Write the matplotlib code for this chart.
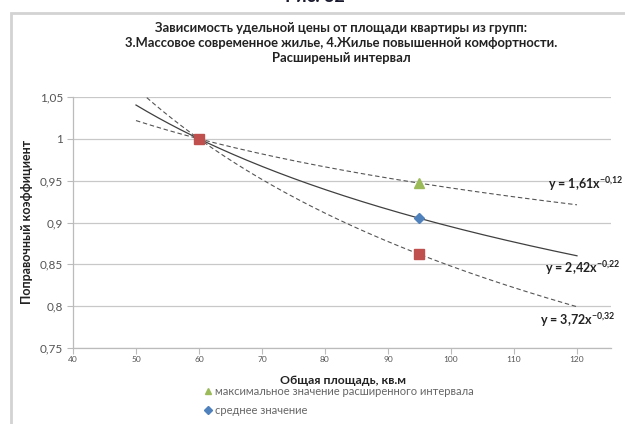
import numpy as np
import matplotlib
matplotlib.use("Agg")
import matplotlib.pyplot as plt
from matplotlib.lines import Line2D
from matplotlib.patches import Rectangle

plt.rcParams['font.family'] = ['Lato', 'DejaVu Sans']
plt.rcParams['mathtext.default'] = 'regular'

# ---- data ----
area_points = [60, 95]
max_values = [1.0, 0.947]      # максимальное значение расширенного интервала
mean_values = [1.0, 0.905]     # среднее значение
min_values = [1.0, 0.862]      # минимальное значение
equations = [("y = 1,61x", "-0,12"), ("y = 2,42x", "-0,22"), ("y = 3,72x", "-0,32")]
x_ticks = [40, 50, 60, 70, 80, 90, 100, 110, 120]
y_ticks = [0.75, 0.8, 0.85, 0.9, 0.95, 1.0, 1.05]
y_tick_labels = ["0,75", "0,8", "0,85", "0,9", "0,95", "1", "1,05"]
legend_labels = ["максимальное значение расширенного интервала", "среднее значение"]

W, H = 625, 424
fig = plt.figure(figsize=(W / 100, H / 100), dpi=100)
fig.patch.set_facecolor('white')

# outer frame of the chart
fig.patches.append(Rectangle((11 / W, -0.1), 1.2, (H - 13) / H + 0.1,
                             transform=fig.transFigure, fill=False,
                             edgecolor='#d3d3d3', linewidth=2))
# cut-off caption above the chart
fig.text(315 / W, 1 - (-3) / H, "Рис. 32", ha='center', va='center',
         fontsize=13, fontweight='bold', color='#1a1a2e')

ax = fig.add_axes([73 / W, 1 - 348 / H, (611 - 73) / W, (348 - 97) / H])
ax.set_xlim(40, 125.4)
ax.set_ylim(0.75, 1.05)

# trendlines (power fit on each series)
xs = np.linspace(50, 120, 200)
styles = [dict(ls=(0, (4, 2.5)), lw=0.8, color='#555555'),
          dict(ls='-', lw=0.9, color='#404040'),
          dict(ls=(0, (4, 2.5)), lw=0.8, color='#555555')]
for vals, st in zip([max_values, mean_values, min_values], styles):
    b, lna = np.polyfit(np.log(area_points), np.log(vals), 1)
    ax.plot(xs, np.exp(lna) * xs ** b, zorder=3, **st)

ax.plot(area_points, min_values, 's', color='#C0504D', ms=7, zorder=5, ls='none')
ax.plot(area_points[1:], max_values[1:], '^', color='#9BBB59', ms=7, zorder=5, ls='none')
ax.plot(area_points[1:], mean_values[1:], 'D', color='#4F81BD', ms=5.5, zorder=5, ls='none')

ax.set_xticks(x_ticks)
ax.set_xticklabels([str(v) for v in x_ticks], fontsize=6, color='#555555')
ax.set_yticks(y_ticks)
ax.set_yticklabels(y_tick_labels, fontsize=8.5, color='#555555')
ax.grid(axis='y', color='#c8c8c8', lw=0.9)
ax.set_axisbelow(True)
for s in ['top', 'right']:
    ax.spines[s].set_visible(False)
for s in ['left', 'bottom']:
    ax.spines[s].set_color('#bbbbbb')
    ax.spines[s].set_linewidth(0.9)
ax.tick_params(axis='x', direction='out', length=4, color='#bbbbbb', pad=2)
ax.tick_params(axis='y', direction='out', length=4, color='#bbbbbb', pad=3)

# equation labels
eq_pos = [(115.4, 0.946), (114.9, 0.8456), (114.1, 0.7835)]
for (ex, ey), (base, ex_txt) in zip(eq_pos, equations):
    ax.text(ex, ey, base + "$^{" + ex_txt.replace(",", "{,}") + "}$", fontsize=9,
            fontweight='bold', color='#222222', ha='left', va='center', clip_on=False)

title_lines = ["Зависимость удельной цены от площади квартиры из групп:",
               "3.Массовое современное жилье, 4.Жилье повышенной комфортности.",
               "Расширеный интервал"]
for yy, t in zip([28, 43, 58], title_lines):
    fig.text(341 / W, 1 - yy / H, t, ha='center', va='center', fontsize=9.4,
             fontweight='bold', color='#222222')

fig.text(27 / W, 1 - 222 / H, "Поправочный коэффициент", rotation=90,
         ha='center', va='center', fontsize=9, fontweight='bold', color='#222222')
fig.text(343 / W, 1 - 380 / H, "Общая площадь, кв.м",
         ha='center', va='center', fontsize=8.8, fontweight='bold', color='#222222')

handles = [Line2D([], [], marker='^', color='#9BBB59', ls='none', ms=5),
           Line2D([], [], marker='D', color='#4F81BD', ls='none', ms=4)]
leg = fig.legend(handles, legend_labels, loc='upper left',
                 bbox_to_anchor=(205 / W, 1 - 386 / H), frameon=False,
                 fontsize=8, handlelength=0.6, handletextpad=0.3,
                 labelspacing=0.75, borderpad=0, borderaxespad=0)
for t in leg.get_texts():
    t.set_color('#666666')

fig.savefig("out.png", dpi=100)
